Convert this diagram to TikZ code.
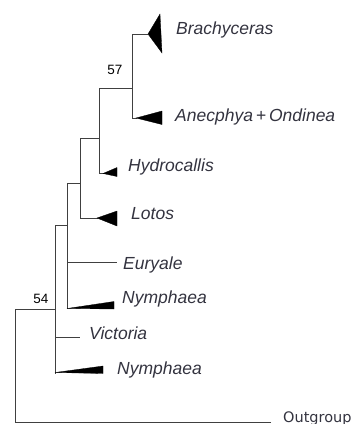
\documentclass[tikz,border=0pt]{standalone}
\usepackage{fontspec}
\setmainfont{Liberation Sans}
\newfontfamily\dvfont{DejaVu Sans}
\definecolor{branch}{HTML}{404040}
\definecolor{labelc}{HTML}{33333F}
\begin{document}
\begin{tikzpicture}[x=1pt,y=-1pt,
  br/.style={draw=branch,line width=0.9pt},
  clade/.style={fill=black,draw=black,line width=0.3pt},
  taxon/.style={anchor=base west,inner sep=0pt,text=labelc,font=\fontsize{17.5}{20}\selectfont\itshape},
  outg/.style={anchor=base west,inner sep=0pt,text=labelc,font=\dvfont\fontsize{14.5}{17}\selectfont},
  supp/.style={anchor=center,inner sep=0pt,text=black,font=\fontsize{13.5}{15}\selectfont}]
\useasboundingbox (0,0) rectangle (354,424);
% junction coordinates
\coordinate (r0t) at (15,309);
\coordinate (r0b) at (15,422);
\coordinate (og) at (271,422);
\coordinate (a54) at (55,309);
\coordinate (a54t) at (55,225);
\coordinate (a54b) at (55,374);
\coordinate (vic0) at (55,337);
\coordinate (vic1) at (80,337);
\coordinate (b0) at (67,225);
\coordinate (b0t) at (67,183);
\coordinate (b0b) at (67,309);
\coordinate (eur0) at (67,262);
\coordinate (eur1) at (117,262);
\coordinate (c0) at (80,183);
\coordinate (c0t) at (80,138);
\coordinate (c0b) at (80,218);
\coordinate (lot1) at (98,218);
\coordinate (d0) at (99,138);
\coordinate (d0t) at (99,88);
\coordinate (d0b) at (99,173);
\coordinate (hyd1) at (105,173);
\coordinate (e0) at (132,88);
\coordinate (e0t) at (132,34);
\coordinate (e0b) at (132,118);
\coordinate (bra1) at (148,34);
\coordinate (ane1) at (137,118);
% branches
\draw[br] (og) -- (r0b) -- (r0t) -- (a54);
\draw[br] (a54t) -- (a54b);
\draw[br] (vic0) -- (vic1);
\draw[br] (a54t) -- (b0);
\draw[br] (b0t) -- (b0b);
\draw[br] (eur0) -- (eur1);
\draw[br] (b0t) -- (c0);
\draw[br] (c0t) -- (c0b) -- (lot1);
\draw[br] (c0t) -- (d0);
\draw[br] (d0t) -- (d0b) -- (hyd1);
\draw[br] (d0t) -- (e0);
\draw[br] (e0t) -- (e0b) -- (ane1);
\draw[br] (e0t) -- (bra1);
% collapsed clades
\fill[clade] (bra1) -- (160,14) -- (162,53) -- cycle;
\fill[clade] (136,118) -- (162,111) -- (162,124.5) -- cycle;
\fill[clade] (103,173.5) -- (117,167.5) -- (117,176.5) -- cycle;
\fill[clade] (97,218) -- (117,211) -- (117,226) -- cycle;
\fill[clade] (67,308.5) -- (114,301.5) -- (114,309) -- cycle;
\fill[clade] (55,372.5) -- (103,366) -- (103,373.5) -- cycle;
% labels
\node[taxon] (tbra) at (176,34) {Brachyceras};
\node[taxon] (tane) at (175,121) {Anecphya\,+\,Ondinea};
\node[taxon] (thyd) at (128,171) {Hydrocallis};
\node[taxon] (tlot) at (131,219) {Lotos};
\node[taxon] (teur) at (123,269) {Euryale};
\node[taxon] (tny1) at (122,303) {Nymphaea};
\node[taxon] (tvic) at (89,339) {Victoria};
\node[taxon] (tny2) at (117,374) {Nymphaea};
\node[outg] (tout) at (283,422) {Outgroup};
\node[supp] (s57) at (115,70) {57};
\node[supp] (s54) at (41,299) {54};
\end{tikzpicture}
\end{document}
